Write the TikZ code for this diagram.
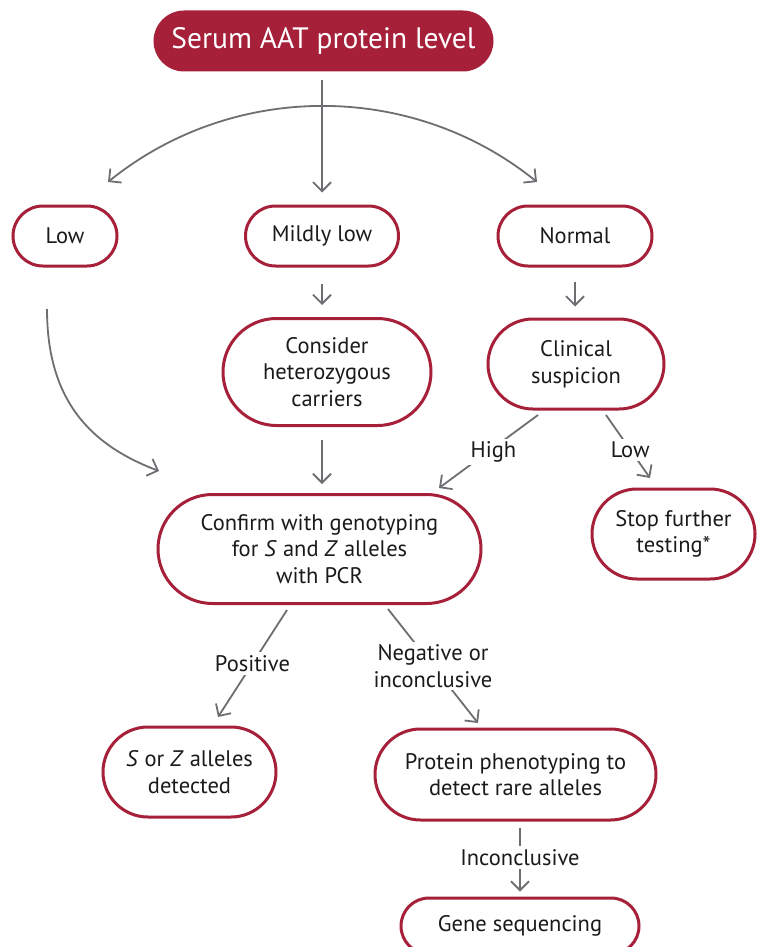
\documentclass[tikz,border=0pt]{standalone}
\usepackage{fontspec}
\setmainfont{PT Sans}
\usetikzlibrary{arrows.meta,shapes.misc}
\definecolor{aatred}{HTML}{A6203A}
\definecolor{arrgray}{HTML}{6D6E71}
\definecolor{txt}{HTML}{1A1A1A}
\newcommand{\boxfont}{\fontsize{22.5}{26.5}\selectfont}

\begin{document}
\begin{tikzpicture}[x=1pt,y=1pt,
    >={Straight Barb[length=9pt,width=18pt]},
    box/.style={draw=aatred,line width=3pt,rounded rectangle,align=center,inner sep=0pt,text=txt,font=\boxfont},
    lab/.style={fill=white,inner sep=3pt,align=center,text=txt,font=\boxfont},
    arr/.style={draw=arrgray,line width=1.8pt}]
  \useasboundingbox (0,0) rectangle (756,-947);
  \node (S) [box,fill=aatred,text=white,minimum width=337pt,minimum height=58pt,font=\fontsize{29.5}{32}\selectfont] at (323.5,-41) {Serum AAT protein level};
  \node (L) [box,minimum width=104pt,minimum height=60pt] at (65,-236) {Low};
  \node (M) [box,minimum width=153pt,minimum height=60pt] at (322,-236) {Mildly low};
  \node (N) [box,minimum width=154pt,minimum height=60pt] at (575,-236) {Normal};
  \node (H) [box,minimum width=208pt,minimum height=107pt] at (327,-372) {Consider\\heterozygous\\carriers};
  \node (C) [box,minimum width=176pt,minimum height=90pt] at (576,-364) {Clinical\\suspicion};
  \node (G) [box,minimum width=323pt,minimum height=109pt] at (319.5,-549) {Confirm with genotyping\\for \textit{S} and \textit{Z} alleles\\with PCR};
  \node (T) [box,minimum width=163pt,minimum height=90pt] at (673.5,-534) {Stop further\\testing*};
  \node (D) [box,minimum width=173pt,minimum height=90pt] at (189.5,-772) {\textit{S} or \textit{Z} alleles\\detected};
  \node (P) [box,minimum width=281pt,minimum height=91pt] at (515.5,-774.5) {Protein phenotyping to\\detect rare alleles};
  \node (Q) [box,minimum width=238pt,minimum height=56pt] at (520,-926) {Gene sequencing};
  \coordinate (a1) at (108,-182);
  \coordinate (a2) at (537,-182);
  \coordinate (l1) at (47,-309);
  \coordinate (l2) at (159,-471);
  \coordinate (c1) at (538,-415);
  \coordinate (c2) at (439,-488);
  \coordinate (c3) at (606,-415);
  \coordinate (c4) at (650,-478);
  \coordinate (g1) at (287,-610);
  \coordinate (g2) at (218,-717);
  \coordinate (g3) at (388,-609);
  \coordinate (g4) at (478,-723);
  \draw [arr,->,shorten <=9pt,shorten >=12pt] (M |- S.south) to (M.north);
  \draw [arr,<->] (a1) .. controls (233,-81) and (412,-81) .. (a2);
  \draw [arr,->,shorten <=16pt,shorten >=12pt] (M.south) to (M |- H.north);
  \draw [arr,->,shorten <=14pt,shorten >=11pt] (N.south) to (N |- C.north);
  \draw [arr,->] (l1) .. controls (47,-400) and (90,-445) .. (l2);
  \draw [arr,->,shorten <=13pt,shorten >=9pt] (M |- H.south) to (M |- G.north);
  \draw [arr,->] (c1) to node [lab,pos=.45,yshift=-4pt] {High} (c2);
  \draw [arr,->] (c3) to node [lab,pos=.55] {Low} (c4);
  \draw [arr,->] (g1) to node [lab,pos=.5] {Positive} (g2);
  \draw [arr,->] (g3) to node [lab,pos=.5] {Negative or\\inconclusive} (g4);
  \draw [arr,->,shorten <=6pt,shorten >=5pt] (Q |- P.south) to node [lab,pos=.48] {Inconclusive} (Q.north);
\end{tikzpicture}
\end{document}
